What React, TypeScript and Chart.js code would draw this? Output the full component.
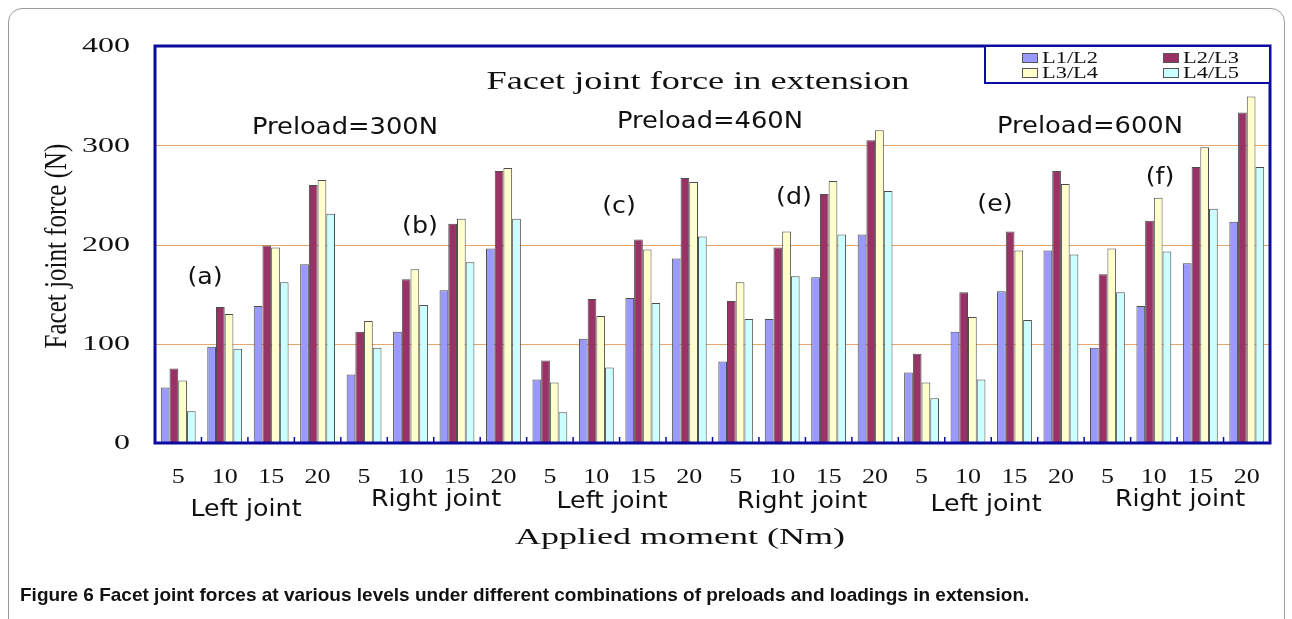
import React, { useEffect, useRef } from "react";
import { Chart, registerables } from "chart.js";
Chart.register(...registerables);

// ---- data ----
const moments = ["5", "10", "15", "20"];
const joints = ["Left joint", "Right joint", "Left joint", "Right joint", "Left joint", "Right joint"];
const panels = ["(a)", "(b)", "(c)", "(d)", "(e)", "(f)"];
const preloads = ["Preload=300N", "Preload=460N", "Preload=600N"];
const seriesNames = ["L1/L2", "L2/L3", "L3/L4", "L4/L5"];
const seriesColors = ["#9999FF", "#993366", "#FFFFCC", "#CCFFFF"];

const l1l2 = [56, 97, 138, 180, 69, 112, 154, 196, 64, 105, 146, 186, 82, 125, 167, 210, 71, 112, 153, 194, 96, 138, 181, 223];
const l2l3 = [75, 137, 199, 260, 112, 165, 221, 274, 83, 145, 205, 267, 143, 197, 251, 305, 90, 152, 213, 274, 170, 224, 278, 333];
const l3l4 = [63, 130, 197, 265, 123, 175, 226, 277, 61, 128, 195, 263, 162, 213, 264, 315, 61, 127, 194, 261, 196, 247, 298, 349];
const l4l5 = [32, 95, 162, 231, 96, 139, 182, 226, 31, 76, 141, 208, 125, 168, 210, 254, 45, 64, 124, 190, 152, 193, 236, 278];

const yMin = 0;
const yMax = 400;
const yStep = 100;

const chartTitle = "Facet joint force in extension";
const xTitle = "Applied moment (Nm)";
const yTitle = "Facet joint force (N)";
const caption = "Figure 6";
const captionRest = " Facet joint forces at various levels under different combinations of preloads and loadings in extension.";

// ---- layout / style (not data) ----
const W = 1292;
const H = 619;
const BLUE = "#0b0ba0";
const GRID = "#e2a86f";
const TEXT = "#111111";
const SERIF = '"Liberation Serif", "Times New Roman", serif';
const SANS = '"DejaVu Sans", Verdana, sans-serif';

const panelPos = [[205, 278], [420, 227], [619, 207], [794, 198], [995, 205], [1160, 178]];
const preloadPos = [[345, 128], [710, 122], [1090, 127]];
const jointPos = [[246, 510], [436, 500], [612, 502], [802, 502], [986, 505], [1180, 500]];

function stretchText(ctx: CanvasRenderingContext2D, text: string, x: number, y: number, font: string, sx: number, align: CanvasTextAlign = "center") {
  ctx.save();
  ctx.translate(x, y);
  ctx.scale(sx, 1);
  ctx.font = font;
  ctx.fillStyle = TEXT;
  ctx.textAlign = align;
  ctx.textBaseline = "middle";
  ctx.fillText(text, 0, 0);
  ctx.restore();
}

const overlayPlugin = {
  id: "overlay",
  beforeDatasetsDraw(chart: any) {
    const { ctx, chartArea: a, scales } = chart;
    const y = scales.y;
    ctx.save();
    ctx.fillStyle = GRID;
    y.ticks.forEach((t: any) => {
      if (t.value > yMin && t.value < yMax) {
        const py = Math.round(y.getPixelForValue(t.value));
        ctx.fillRect(a.left, py, a.right - a.left, 1);
      }
    });
    ctx.restore();
  },
  afterDatasetsDraw(chart: any) {
    const { ctx, chartArea: a, scales } = chart;
    const x = scales.x;
    const n = chart.data.labels.length;
    ctx.save();
    // small category separator ticks
    ctx.strokeStyle = BLUE;
    ctx.lineWidth = 1.5;
    for (let i = 1; i < n; i++) {
      const bx = (x.getPixelForValue(i - 1) + x.getPixelForValue(i)) / 2;
      ctx.beginPath();
      ctx.moveTo(bx, a.bottom);
      ctx.lineTo(bx, a.bottom - 6);
      ctx.stroke();
    }
    // frame
    ctx.lineWidth = 3;
    ctx.strokeRect(a.left, a.top, a.right - a.left, a.bottom - a.top);
    // legend box
    const lbLeft = 985;
    const lbBottom = 83;
    ctx.lineWidth = 2;
    ctx.fillStyle = "#ffffff";
    ctx.fillRect(lbLeft, a.top, a.right - lbLeft, lbBottom - a.top);
    ctx.strokeRect(lbLeft, a.top, a.right - lbLeft, lbBottom - a.top);
    // legend items
    const cols = [1022, 1163];
    const rows = [58, 73];
    chart.data.datasets.forEach((ds: any, i: number) => {
      const cx = cols[i % 2];
      const cy = rows[Math.floor(i / 2)];
      ctx.fillStyle = ds.backgroundColor;
      ctx.fillRect(cx, cy - 5, 16, 10);
      ctx.lineWidth = 1;
      ctx.strokeStyle = "#555";
      ctx.strokeRect(cx + 0.5, cy - 4.5, 15, 9);
      stretchText(ctx, ds.label, cx + 20, cy + 1, `16px ${SERIF}`, 1.4, "left");
    });
    ctx.restore();
  },
  afterDraw(chart: any) {
    const { ctx, scales } = chart;
    const x = scales.x;
    const y = scales.y;
    // y tick labels
    y.ticks.forEach((t: any) => {
      stretchText(ctx, String(t.value), 130, y.getPixelForValue(t.value) + 1, `20px ${SERIF}`, 1.6, "right");
    });
    // x tick labels
    chart.data.labels.forEach((lab: string, i: number) => {
      stretchText(ctx, lab, x.getPixelForValue(i), 478, `20px ${SERIF}`, 1.3, "center");
    });
    // group labels
    joints.forEach((j, i) => stretchText(ctx, j, jointPos[i][0], jointPos[i][1], `23px ${SANS}`, 1.1));
    panels.forEach((p, i) => stretchText(ctx, p, panelPos[i][0], panelPos[i][1], `23px ${SANS}`, 1.1));
    preloads.forEach((p, i) => stretchText(ctx, p, preloadPos[i][0], preloadPos[i][1], `23px ${SANS}`, 1.12));
    // titles
    stretchText(ctx, chartTitle, 698, 82, `25px ${SERIF}`, 1.45);
    stretchText(ctx, xTitle, 680, 538, `24px ${SERIF}`, 1.5);
    ctx.save();
    ctx.translate(58, 246);
    ctx.rotate(-Math.PI / 2);
    ctx.scale(1, 1.25);
    ctx.font = `25px ${SERIF}`;
    ctx.fillStyle = TEXT;
    ctx.textAlign = "center";
    ctx.textBaseline = "middle";
    ctx.fillText(yTitle, 0, 0);
    ctx.restore();
  },
};

export default function App() {
  const ref = useRef<HTMLCanvasElement | null>(null);
  useEffect(() => {
    if (!ref.current) return;
    const labels: string[] = [];
    joints.forEach(() => moments.forEach((m) => labels.push(m)));
    const values = [l1l2, l2l3, l3l4, l4l5];
    const chart = new Chart(ref.current, {
      type: "bar",
      data: {
        labels,
        datasets: seriesNames.map((name, i) => ({
          label: name,
          data: values[i],
          backgroundColor: seriesColors[i],
          borderColor: "#4d4d4d",
          borderWidth: 1,
          categoryPercentage: 0.75,
          barPercentage: 1.0,
        })),
      },
      options: {
        responsive: false,
        animation: false,
        devicePixelRatio: 1,
        layout: { padding: { left: 155, top: 46, right: W - 1270, bottom: H - 443 } },
        plugins: { legend: { display: false }, title: { display: false }, tooltip: { enabled: false } },
        scales: {
          x: {
            display: true,
            offset: true,
            ticks: { display: false },
            grid: { display: false, drawTicks: false },
            border: { display: false },
          },
          y: {
            display: true,
            min: yMin,
            max: yMax,
            ticks: { display: false, stepSize: yStep },
            grid: { display: false, drawTicks: false },
            border: { display: false },
          },
        },
      },
      plugins: [overlayPlugin],
    });
    return () => chart.destroy();
  }, []);

  return (
    <div style={{ position: "absolute", left: 0, top: 0, width: W, height: H, overflow: "hidden", background: "#fff" }}>
      <div
        style={{
          position: "absolute",
          left: 8,
          top: 8,
          width: 1277,
          height: 640,
          border: "1px solid #9c9c9c",
          borderRadius: 14,
          boxSizing: "border-box",
        }}
      />
      <canvas ref={ref} width={W} height={H} style={{ position: "absolute", left: 0, top: 0, width: W, height: H }} />
      <div
        style={{
          position: "absolute",
          left: 20,
          top: 584,
          font: `bold 19px "Liberation Sans", Arial, sans-serif`,
          color: "#111",
          whiteSpace: "nowrap",
        }}
      >
        {caption}
        {captionRest}
      </div>
    </div>
  );
}
